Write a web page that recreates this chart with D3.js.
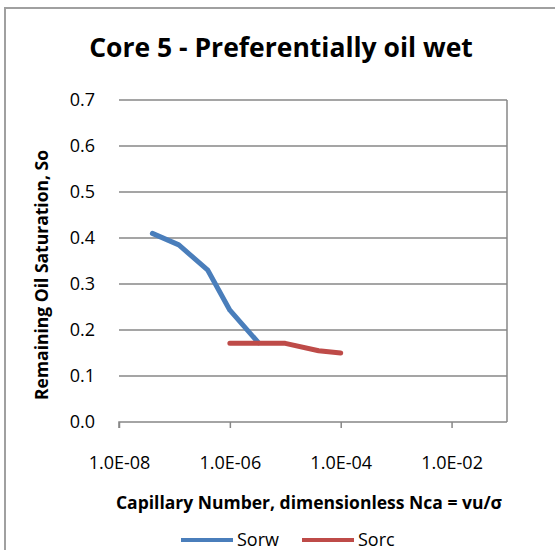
<!DOCTYPE html>
<html>
<head>
<meta charset="utf-8">
<script src="https://cdn.jsdelivr.net/npm/d3@7"></script>
<style>
  html, body { margin: 0; padding: 0; background: #fff; }
  svg { display: block; font-family: "Open Sans", "Noto Sans", sans-serif; }
</style>
</head>
<body>
<div id="chart"></div>
<script>
// data
const sorwX = [4e-8, 1.2e-7, 4e-7, 1e-6, 3.3e-6];
const sorwY = [0.41, 0.385, 0.33, 0.243, 0.172];
const sorcX = [1e-6, 1e-5, 4e-5, 1e-4];
const sorcY = [0.171, 0.171, 0.155, 0.15];
const xTicks = [1e-8, 1e-6, 1e-4, 1e-2];
const yTicks = [0, 0.1, 0.2, 0.3, 0.4, 0.5, 0.6, 0.7];
const seriesNames = ["Sorw", "Sorc"];
const seriesColors = ["#4a7ebb", "#be4b48"];

const W = 555, H = 550;
const plot = { left: 119, right: 507, top: 100, bottom: 422 };

const svg = d3.select("#chart").append("svg")
  .attr("width", W)
  .attr("height", H);

// chart frame (runs off the right and bottom edge)
svg.append("rect")
  .attr("x", 5).attr("y", 8)
  .attr("width", 600).attr("height", 600)
  .attr("fill", "none")
  .attr("stroke", "#a0a0a0")
  .attr("stroke-width", 2);

const x = d3.scaleLog().domain([1e-8, 1e-1]).range([plot.left, plot.right]);
const y = d3.scaleLinear().domain([0, 0.7]).range([plot.bottom, plot.top]);

// gridlines
svg.append("g")
  .selectAll("line")
  .data(yTicks.filter(d => d > 0))
  .join("line")
  .attr("x1", plot.left).attr("x2", plot.right)
  .attr("y1", d => y(d)).attr("y2", d => y(d))
  .attr("stroke", "#878787")
  .attr("stroke-width", 1.5);

// right border of plot area
svg.append("line")
  .attr("x1", plot.right).attr("x2", plot.right)
  .attr("y1", plot.top).attr("y2", plot.bottom)
  .attr("stroke", "#878787")
  .attr("stroke-width", 1.5);

// y axis
const yAxis = svg.append("g")
  .attr("transform", `translate(${plot.left},0)`)
  .call(d3.axisLeft(y).tickValues(yTicks).tickFormat(d3.format(".1f")).tickSize(0).tickPadding(24));
yAxis.select(".domain").remove();
yAxis.selectAll("text")
  .attr("font-size", 18)
  .attr("fill", "#000")
  .attr("font-family", "'Open Sans', sans-serif");

// x axis
const xAxis = svg.append("g")
  .attr("transform", `translate(0,${plot.bottom})`)
  .call(d3.axisBottom(x).tickValues(xTicks)
    .tickFormat(d => d.toExponential(1).toUpperCase().replace(/E([+-])(\d)$/, "E$10$2"))
    .tickSize(6).tickPadding(28));
xAxis.select(".domain")
  .attr("d", `M${plot.left},6V0H${plot.right}`)
  .attr("stroke", "#878787")
  .attr("stroke-width", 1.5);
xAxis.selectAll(".tick line")
  .attr("stroke", "#878787")
  .attr("stroke-width", 1.5);
xAxis.selectAll("text")
  .attr("font-size", 18)
  .attr("fill", "#000")
  .attr("font-family", "'Open Sans', sans-serif");

// lines
const line = d3.line().x(d => x(d[0])).y(d => y(d[1]));
const series = [
  d3.zip(sorwX, sorwY),
  d3.zip(sorcX, sorcY)
];
svg.append("g")
  .selectAll("path")
  .data(series)
  .join("path")
  .attr("d", line)
  .attr("fill", "none")
  .attr("stroke", (d, i) => seriesColors[i])
  .attr("stroke-width", 5)
  .attr("stroke-linecap", "round")
  .attr("stroke-linejoin", "round");

// title
svg.append("text")
  .attr("x", 281).attr("y", 57)
  .attr("text-anchor", "middle")
  .attr("font-size", 26.5)
  .attr("font-weight", "bold")
  .text("Core 5 - Preferentially oil wet");

// axis titles
svg.append("text")
  .attr("transform", "translate(48,275) rotate(-90)")
  .attr("text-anchor", "middle")
  .attr("font-size", 17.5)
  .attr("font-weight", "bold")
  .text("Remaining Oil Saturation, So");

svg.append("text")
  .attr("x", 309).attr("y", 509)
  .attr("text-anchor", "middle")
  .attr("font-size", 17.5)
  .attr("font-weight", "bold")
  .text("Capillary Number, dimensionless Nca = vu/σ");

// legend
const legend = svg.append("g")
  .selectAll("g")
  .data(seriesNames)
  .join("g")
  .attr("transform", (d, i) => `translate(${181 + i * 121},540)`);
legend.append("line")
  .attr("x1", 0).attr("x2", 52)
  .attr("stroke", (d, i) => seriesColors[i])
  .attr("stroke-width", 4);
legend.append("text")
  .attr("x", 56).attr("y", 6)
  .attr("font-size", 18)
  .text(d => d);
</script>
</body>
</html>
